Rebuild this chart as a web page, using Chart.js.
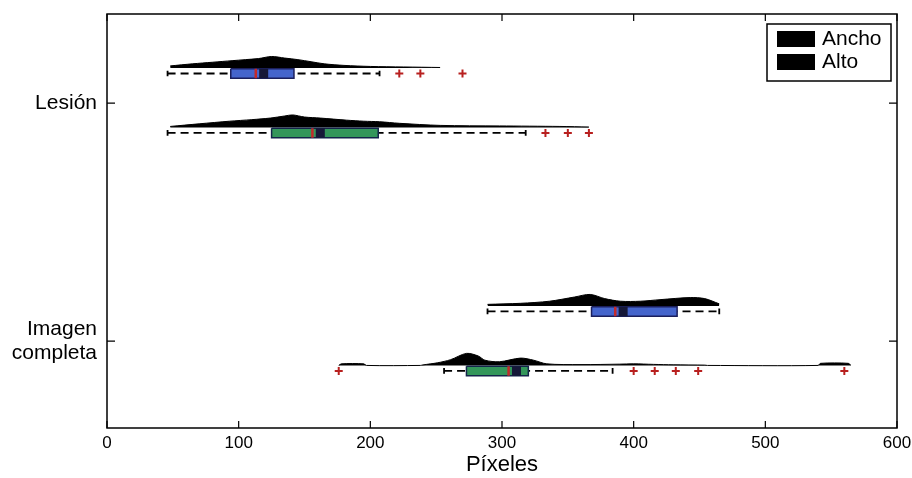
<!DOCTYPE html>
<html>
<head>
<meta charset="utf-8">
<script src="https://cdn.jsdelivr.net/npm/chart.js@4.4.1/dist/chart.umd.min.js"></script>
<style>
  body { margin: 0; background: #fff; }
  .plot-container { width: 912px; height: 478px; }
</style>
</head>
<body>
<div class="plot-container"><canvas id="myChart"></canvas></div>
<script>
// categories (y) and tick values (x)
const categories = ['Lesión', ['Imagen', 'completa']];
const xTicks = [0, 100, 200, 300, 400, 500, 600];
const seriesNames = ['Ancho', 'Alto'];

// box plot stats per category [Lesión, Imagen completa]
const anchoWhiskerLow = [46, 289];
const anchoQ1 = [94, 368];
const anchoMedian = [113, 386];
const anchoQ3 = [142, 433];
const anchoWhiskerHigh = [207, 465];
const anchoOutliers = [[222, 238, 270], []];

const altoWhiskerLow = [46, 256];
const altoQ1 = [125, 273];
const altoMedian = [156, 305];
const altoQ3 = [206, 320];
const altoWhiskerHigh = [318, 384];
const altoOutliers = [[333, 350, 366], [176, 400, 416, 432, 449, 560]];

// density outlines (x in pixels of data, height relative)
const anchoLesionDensityX = [48, 65, 80, 95, 105, 115, 125, 135, 145, 155, 165, 180, 200, 225, 253];
const anchoLesionDensity = [2, 4, 5.5, 7, 8, 9, 11, 9.5, 8, 6, 4, 2.5, 1.5, 1, 0.5];
const altoLesionDensityX = [48, 70, 93, 110, 124, 135, 141, 150, 162, 172, 182, 195, 207, 222, 253, 298, 344, 366];
const altoLesionDensity = [1, 3.5, 6, 7.5, 9, 11, 12, 10, 9, 8, 7, 6, 5.5, 4, 2, 1.5, 1, 0.5];
const anchoImagenDensityX = [289, 314, 336, 355, 367, 378, 390, 405, 420, 443, 454, 465];
const anchoImagenDensity = [1.5, 2.5, 4.5, 8.5, 11, 7, 4.5, 4.5, 6, 8, 7, 2];
const altoImagenDensityX = [176, 178, 195, 197, 238, 240, 251, 261, 273, 282, 287, 298, 314, 324, 334, 360, 389, 400, 415, 430, 454, 456, 540, 542, 563, 565];
const altoImagenDensity = [0, 1.5, 1.5, 0, 0, 0.5, 2.5, 5.5, 11.5, 9, 5, 3.5, 7, 5, 1.5, 0.8, 1.2, 1.5, 1, 0.6, 0.3, 0, 0, 2, 2, 0];

const FONT = '"Liberation Sans", Arial, Helvetica, sans-serif';
const catPos = [1, 2];
const offsets = [-0.125, 0.125];      // Ancho above, Alto below
const boxHalf = 0.02;
const capHalf = 0.012;
const densBase = 0.023;
const densUnit = 0.0044;
const colors = [
  { fill: '#4565cc', edge: '#1b1f5c' },
  { fill: '#33965a', edge: '#13244a' }
];

const stats = [
  { lo: anchoWhiskerLow, q1: anchoQ1, med: anchoMedian, q3: anchoQ3, hi: anchoWhiskerHigh, out: anchoOutliers,
    dens: [[anchoLesionDensityX, anchoLesionDensity], [anchoImagenDensityX, anchoImagenDensity]] },
  { lo: altoWhiskerLow, q1: altoQ1, med: altoMedian, q3: altoQ3, hi: altoWhiskerHigh, out: altoOutliers,
    dens: [[altoLesionDensityX, altoLesionDensity], [altoImagenDensityX, altoImagenDensity]] }
];

const datasets = [];
stats.forEach((s, si) => {
  catPos.forEach((p, ci) => {
    const y = p + offsets[si];
    const base = y - densBase;
    const [dx, dh] = s.dens[ci];
    // density
    datasets.push({
      type: 'line', order: 5,
      data: dx.map((x, i) => ({ x: x, y: base - dh[i] * densUnit })),
      borderColor: '#000', borderWidth: 1, backgroundColor: '#000',
      fill: { value: base }, pointRadius: 0, tension: 0.3
    });
    // whisker (dashed)
    datasets.push({
      type: 'line', order: 4,
      data: [{ x: s.lo[ci], y: y }, { x: s.hi[ci], y: y }],
      borderColor: '#000', borderWidth: 1.8, borderDash: [8, 5],
      pointRadius: 0, fill: false
    });
    // whisker caps
    datasets.push({
      type: 'line', order: 4,
      data: [{ x: s.lo[ci], y: y - capHalf }, { x: s.lo[ci], y: y + capHalf }, { x: s.lo[ci], y: null },
             { x: s.hi[ci], y: y - capHalf }, { x: s.hi[ci], y: y + capHalf }],
      borderColor: '#000', borderWidth: 1.8, pointRadius: 0, fill: false, spanGaps: false
    });
    // box
    datasets.push({
      type: 'line', order: 3,
      data: [{ x: s.q1[ci], y: y - boxHalf }, { x: s.q3[ci], y: y - boxHalf },
             { x: s.q3[ci], y: y + boxHalf }, { x: s.q1[ci], y: y + boxHalf },
             { x: s.q1[ci], y: y - boxHalf }],
      borderColor: colors[si].edge, borderWidth: 1.5, backgroundColor: colors[si].fill,
      fill: 'shape', pointRadius: 0, tension: 0
    });
    // dark notch band beside the median
    datasets.push({
      type: 'line', order: 2,
      data: [{ x: s.med[ci] + 6, y: y - boxHalf }, { x: s.med[ci] + 6, y: y + boxHalf }],
      borderColor: '#161838', borderWidth: 9, pointRadius: 0, fill: false
    });
    // median
    datasets.push({
      type: 'line', order: 1,
      data: [{ x: s.med[ci], y: y - boxHalf }, { x: s.med[ci], y: y + boxHalf }],
      borderColor: '#c42a2a', borderWidth: 2.5, pointRadius: 0, fill: false
    });
    // outliers
    datasets.push({
      type: 'scatter', order: 0,
      data: s.out[ci].map(v => ({ x: v, y: y })),
      pointStyle: 'cross', pointRadius: 4, borderColor: '#b8201f', borderWidth: 2
    });
  });
});

const framePlugin = {
  id: 'frame',
  afterDraw(chart) {
    const { ctx, chartArea: a, scales } = chart;
    ctx.save();
    ctx.strokeStyle = '#000';
    ctx.lineWidth = 1.5;
    ctx.strokeRect(a.left, a.top, a.right - a.left, a.bottom - a.top);
    ctx.lineWidth = 1.2;
    ctx.beginPath();
    xTicks.forEach(v => {
      const px = scales.x.getPixelForValue(v);
      ctx.moveTo(px, a.bottom); ctx.lineTo(px, a.bottom - 7);
      ctx.moveTo(px, a.top); ctx.lineTo(px, a.top + 7);
    });
    catPos.forEach(v => {
      const py = scales.y.getPixelForValue(v);
      ctx.moveTo(a.left, py); ctx.lineTo(a.left + 8, py);
      ctx.moveTo(a.right, py); ctx.lineTo(a.right - 8, py);
    });
    ctx.stroke();

    // legend inside plot, top right
    const lx = a.right - 130, ly = a.top + 10;
    ctx.fillStyle = '#fff';
    ctx.fillRect(lx, ly, 124, 57);
    ctx.lineWidth = 1.5;
    ctx.strokeRect(lx, ly, 124, 57);
    ctx.font = '21px ' + FONT;
    ctx.textBaseline = 'middle';
    seriesNames.forEach((name, i) => {
      const ry = ly + 7 + i * 23;
      ctx.fillStyle = '#000';
      ctx.fillRect(lx + 10, ry, 38, 16);
      ctx.fillText(name, lx + 55, ry + 8);
    });
    ctx.restore();
  }
};

new Chart(document.getElementById('myChart'), {
  type: 'scatter',
  data: { datasets: datasets },
  options: {
    responsive: true,
    maintainAspectRatio: false,
    animation: false,
    layout: { padding: { top: 14, right: 15, left: 0, bottom: 0 } },
    plugins: { legend: { display: false }, tooltip: { enabled: false } },
    scales: {
      x: {
        type: 'linear', min: 0, max: 600,
        afterBuildTicks: scale => { scale.ticks = xTicks.map(v => ({ value: v })); },
        afterFit: scale => { scale.height = 50; scale.paddingLeft = 0; scale.paddingRight = 0; },
        grid: { display: false, drawTicks: false },
        border: { display: false },
        ticks: { color: '#000', font: { family: FONT, size: 17 }, padding: 5, maxRotation: 0 },
        title: { display: true, text: 'Píxeles', color: '#000', font: { family: FONT, size: 22 }, padding: { top: 0, bottom: 0 } }
      },
      y: {
        type: 'linear', reverse: true, min: 0.625, max: 2.365,
        afterBuildTicks: scale => { scale.ticks = catPos.map(v => ({ value: v })); },
        afterFit: scale => { scale.width = 107; scale.paddingTop = 0; scale.paddingBottom = 0; },
        grid: { display: false, drawTicks: false },
        border: { display: false },
        ticks: {
          color: '#000', font: { family: FONT, size: 21, lineHeight: 1.15 }, padding: 10,
          callback: v => categories[catPos.indexOf(v)]
        }
      }
    }
  },
  plugins: [framePlugin]
});
</script>
</body>
</html>
